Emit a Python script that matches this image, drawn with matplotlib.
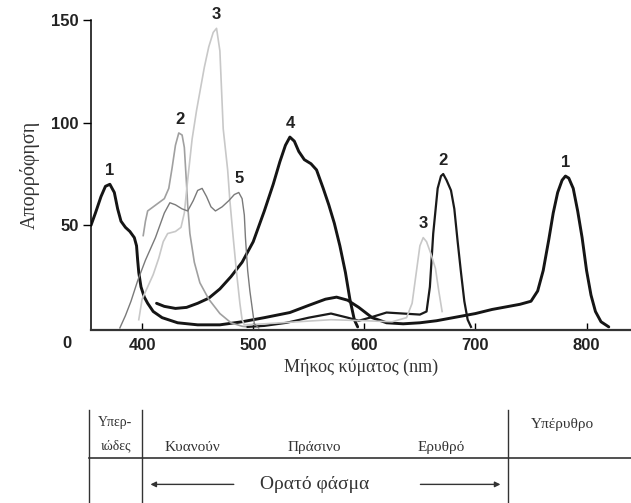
import numpy as np
import matplotlib.pyplot as plt

# absorption spectra (wavelength nm, absorption)
wl1 = [354, 358, 363, 367, 371, 375, 378, 381, 385, 389, 393, 395, 396, 397, 399,
       402, 405, 410, 418, 432, 450, 470, 490, 510, 533, 550, 565, 575, 585, 595,
       607, 620, 635, 650, 665, 680, 700, 715, 730, 740, 750, 756, 761, 766, 770,
       774, 778, 781, 784, 788, 792, 796, 800, 804, 808, 813, 820]
ab1 = [50, 56, 64, 69, 70, 66, 58, 52, 49, 47, 44, 40, 33, 27, 20,
       15, 12, 8, 5, 2.5, 1.5, 1.5, 3, 5, 7.5, 11, 14, 15, 13.5, 10,
       5, 2.5, 2, 2.5, 3.5, 5, 7, 9, 10.5, 11.5, 13, 18, 28, 43, 56,
       66, 72, 74, 73, 68, 57, 44, 28, 16, 8, 3, 0.5]

wl2 = [401, 403, 405, 410, 415, 420, 424, 427, 430, 433, 436, 438, 440, 441, 443,
       447, 452, 460, 470, 480, 490, 495, 510, 530, 550, 570, 585, 595, 605, 620,
       635, 650, 656, 659, 662, 666, 669, 671, 674, 678, 681, 684, 687, 690, 693, 696]
ab2 = [45, 52, 57, 59, 61, 63, 68, 78, 89, 95, 94, 88, 70, 60, 46,
       32, 22, 14, 7, 2.5, 0.8, 0.5, 1, 2.5, 5, 7, 5, 3.5, 5, 7.5,
       7, 6.5, 8, 20, 46, 68, 74, 75, 72, 67, 58, 42, 27, 13, 4, 0.5]

wl3 = [397, 400, 405, 410, 415, 419, 423, 430, 435, 438, 441, 445, 449, 452, 456,
       460, 464, 467, 470, 473, 477, 479, 482, 485, 488, 490, 492, 510, 540, 570,
       600, 625, 638, 643, 647, 650, 653, 656, 660, 664, 667, 670]
ab3 = [4, 14, 20, 26, 34, 42, 46, 47, 49, 56, 72, 92, 106, 115, 127,
       137, 144, 146, 135, 97, 77, 62, 44, 27, 12, 4, 1.5, 2, 3, 4,
       3.5, 3, 5, 12, 28, 40, 44, 42, 36, 29, 18, 8]

wl4 = [413, 420, 430, 440, 450, 460, 470, 480, 490, 500, 510, 518, 524, 529, 533,
       537, 541, 546, 552, 557, 563, 568, 573, 578, 583, 587, 591, 594]
ab4 = [12, 10.5, 9.5, 10, 12, 14.5, 19, 25, 32, 42, 57, 70, 81, 89, 93,
       91, 86, 82, 80, 77, 68, 60, 51, 40, 27, 14, 4, 0.5]

wl5 = [380, 385, 390, 396, 403, 412, 420, 425, 430, 436, 441, 446, 450, 454, 458,
       462, 466, 472, 478, 483, 487, 490, 492, 493, 495, 497, 499, 501, 505]
ab5 = [0, 6, 13, 23, 33, 44, 56, 61, 60, 58, 57, 62, 67, 68, 64,
       59, 57, 59, 62, 65, 66, 63, 55, 44, 28, 18, 10, 2, 0]

# curve number and the wavelength of the peak it sits on
peak_labels = [("1", 371, wl1, ab1), ("2", 434, wl2, ab2), ("3", 467, wl3, ab3),
               ("4", 533, wl4, ab4), ("5", 487, wl5, ab5), ("3", 653, wl3, ab3),
               ("2", 671, wl2, ab2), ("1", 781, wl1, ab1)]

x_ticks = [400, 500, 600, 700, 800]
y_ticks = [50, 100, 150]

# spectrum bands below the plot
band_edges = [352, 400, 729]
band_names = [("Κυανούν", 445), ("Πράσινο", 555), ("Ερυθρό", 669)]

sans = ["Liberation Sans", "DejaVu Sans"]
serif = ["Liberation Serif", "DejaVu Serif"]

fig = plt.figure(figsize=(6.31, 5.03), dpi=100)
ax = fig.add_axes([0.1442, 0.344, 0.8558, 0.616])

ax.plot(wl1, ab1, color="#151515", lw=2.1, solid_capstyle="round")
ax.plot(wl4, ab4, color="#151515", lw=2.1, solid_capstyle="round")
w2 = np.array(wl2)
a2 = np.array(ab2)
blue = w2 <= 495
ax.plot(w2[blue], a2[blue], color="#a0a0a0", lw=1.2)
ax.plot(w2[w2 >= 495], a2[w2 >= 495], color="#1a1a1a", lw=1.6)
ax.plot(wl3, ab3, color="#c8c8c8", lw=1.2)
ax.plot(wl5, ab5, color="#7a7a7a", lw=1.0)

for txt, pk, w, a in peak_labels:
    v = np.interp(pk, w, a)
    ax.annotate(txt, (pk, v), xytext=(0, 10), textcoords="offset points",
                ha="center", va="center", fontsize=12, fontweight="bold",
                family=sans, color="#222")

ax.set_xlim(354, 840)
ax.set_ylim(-1, 150)
ax.set_xticks(x_ticks)
ax.set_yticks(y_ticks)
for s in ["top", "right"]:
    ax.spines[s].set_visible(False)
ax.spines["left"].set_bounds(-1, 150)
ax.spines["left"].set_linewidth(1.1)
ax.spines["bottom"].set_linewidth(1.6)
ax.spines["bottom"].set_color("#333")
ax.tick_params(axis="x", direction="in", length=5, width=1, pad=6)
ax.tick_params(axis="y", direction="out", length=6, width=1, pad=3)
for lab in ax.get_xticklabels() + ax.get_yticklabels():
    lab.set_family(sans)
    lab.set_fontsize(12)
    lab.set_fontweight("bold")
    lab.set_color("#222")
fig.text(67 / 631, 1 - 343 / 503, "0", ha="center", va="center",
         fontsize=12, fontweight="bold", family=sans, color="#222")

ax.set_xlabel("Μήκος κύματος (nm)", family=serif, fontsize=13, labelpad=4, color="#333")
ax.set_ylabel("Απορρόφηση", family=serif, fontsize=14.5, labelpad=8, color="#333")

# table of spectral regions
tab = fig.add_axes([0.1442, 0.0, 0.8558, 0.185])
tab.set_xlim(354, 840)
tab.set_ylim(0, 1)
tab.axis("off")
tab.plot([band_edges[0], 840], [0.485, 0.485], color="#333", lw=1.2, clip_on=False)
for e in band_edges:
    tab.plot([e, e], [0, 1], color="#333", lw=1.0, clip_on=False)
tab.text((band_edges[0] + band_edges[1]) / 2, 0.86, "Υπερ-", ha="center", va="center",
         family=serif, fontsize=10, color="#333")
tab.text((band_edges[0] + band_edges[1]) / 2, 0.62, "ιώδες", ha="center", va="center",
         family=serif, fontsize=10, color="#333")
for name, x in band_names:
    tab.text(x, 0.6, name, ha="center", va="center", family=serif, fontsize=11, color="#333")
tab.text(778, 0.84, "Υπέρυθρο", ha="center", va="center", family=serif, fontsize=11, color="#333")
tab.text(555, 0.2, "Ορατό φάσμα", ha="center", va="center", family=serif, fontsize=14, color="#333")
tab.annotate("", xy=(405, 0.2), xytext=(485, 0.2),
             arrowprops=dict(arrowstyle="-|>", color="#333", lw=1.0, mutation_scale=8))
tab.annotate("", xy=(725, 0.2), xytext=(648, 0.2),
             arrowprops=dict(arrowstyle="-|>", color="#333", lw=1.0, mutation_scale=8))

fig.savefig("out.png", dpi=100)
